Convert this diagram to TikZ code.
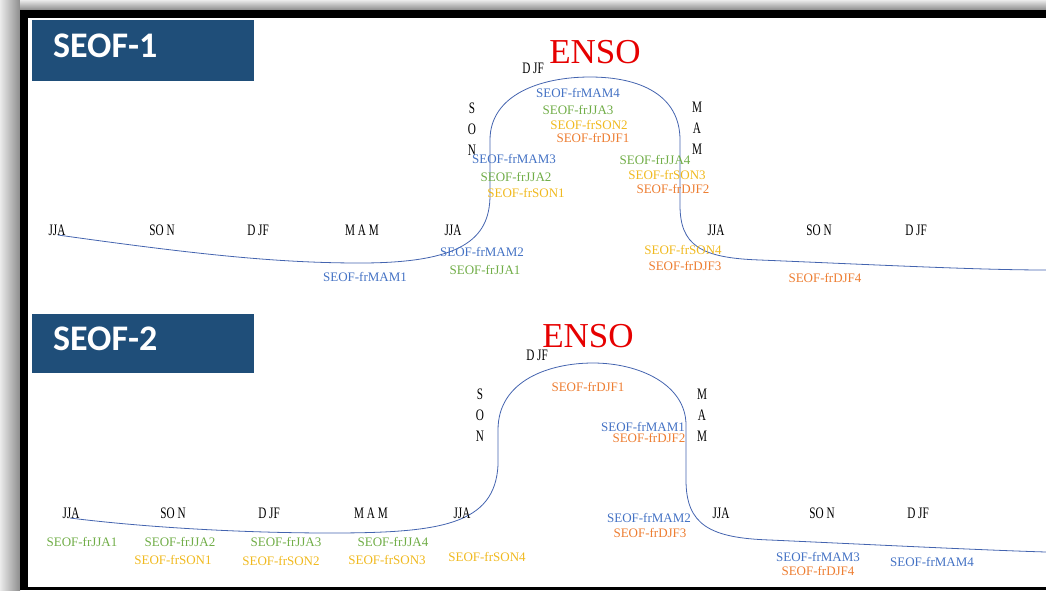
\documentclass[tikz,border=0pt]{standalone}
\usepackage{fontspec}
\setmainfont{Liberation Serif}
\newfontfamily\cond[FakeStretch=0.7]{Liberation Serif}
\newfontfamily\calib{Carlito}
\definecolor{boxblue}{HTML}{1F4E79}
\definecolor{lblue}{HTML}{4472C4}
\definecolor{lgreen}{HTML}{70AD47}
\definecolor{lyellow}{RGB}{240,185,30}
\definecolor{lorange}{HTML}{ED7D31}
\definecolor{curveblue}{RGB}{68,100,175}
\definecolor{ensored}{RGB}{230,0,0}
\tikzset{
  lab/.style={inner sep=0pt, font=\fontsize{13}{13}\selectfont},
  lb/.style={lab, text=lblue},
  lg/.style={lab, text=lgreen},
  ly/.style={lab, text=lyellow},
  lo/.style={lab, text=lorange},
  season/.style={inner sep=0pt, font=\cond\fontsize{16}{16}\selectfont},
  vseason/.style={inner sep=0pt, align=center, font=\cond\fontsize{16}{21}\selectfont},
  enso/.style={inner sep=0pt, anchor=base, text=ensored, font=\fontsize{35}{35}\selectfont},
  title/.style={inner sep=0pt, anchor=base west, text=white, font=\calib\bfseries\fontsize{36}{36}\selectfont},
  titlebox/.style={fill=boxblue},
  cycle/.style={draw=curveblue, line width=0.8pt}
}
\begin{document}
\begin{tikzpicture}[x=1pt,y=-1pt]
\useasboundingbox (0,0) rectangle (1046,590);
% shadow and frame
\shade[left color=black!8, right color=black!45] (0,0) rectangle (20,590);
\shade[top color=black!8, bottom color=black!45] (20,0) rectangle (1046,10);
\fill[black] (20,10) rectangle (1046,18);
\fill[black] (20,10) rectangle (28,590);
\fill[black] (20,587) rectangle (1046,590);
% title boxes
\fill[titlebox] (32,20) rectangle (254,81);
\node[title] (t1) at (53,57) {SEOF-1};
\fill[titlebox] (32,314) rectangle (254,373);
\node[title] (t2) at (53,350) {SEOF-2};

% ---------- panel 1 ----------
\draw[cycle] (58,235) .. controls (200,255) and (280,263) .. (360,263)
  .. controls (460,263) and (490,240) .. (490,195)
  -- (490,140)
  .. controls (490,95) and (540,77) .. (590,77)
  .. controls (640,77) and (680,95) .. (680,140)
  -- (680,205)
  .. controls (680,245) and (700,258) .. (760,260)
  .. controls (880,265) and (980,270) .. (1046,270);
\node[enso] (e1) at (595,63) {ENSO};
\node[season] (a1) at (57,230) {JJA};
\node[season] (a2) at (162,230) {SO N};
\node[season] (a3) at (258,230) {D JF};
\node[season] (a4) at (362,230) {M A M};
\node[season] (a5) at (453,230) {JJA};
\node[season] (a6) at (716,230) {JJA};
\node[season] (a7) at (819,230) {SO N};
\node[season] (a8) at (916,230) {D JF};
\node[season] (a9) at (533,68) {D JF};
\node[vseason] (a10) at (472,129) {S\\O\\N};
\node[vseason] (a11) at (697,128) {M\\A\\M};

\node[lb] (p1m4) at (578,93) {SEOF-frMAM4};
\node[lg] (p1j3) at (578,110) {SEOF-frJJA3};
\node[ly] (p1s2) at (589,125) {SEOF-frSON2};
\node[lo] (p1d1) at (593,138) {SEOF-frDJF1};
\node[lb] (p1m3) at (514,159) {SEOF-frMAM3};
\node[lg] (p1j2) at (516,177) {SEOF-frJJA2};
\node[ly] (p1s1) at (526,193) {SEOF-frSON1};
\node[lg] (p1j4) at (655,160) {SEOF-frJJA4};
\node[ly] (p1s3) at (667,175) {SEOF-frSON3};
\node[lo] (p1d2) at (673,189) {SEOF-frDJF2};
\node[lb] (p1m2) at (482,252) {SEOF-frMAM2};
\node[lg] (p1j1) at (485,270) {SEOF-frJJA1};
\node[lb] (p1m1) at (365,277) {SEOF-frMAM1};
\node[ly] (p1s4) at (683,250) {SEOF-frSON4};
\node[lo] (p1d3) at (685,266) {SEOF-frDJF3};
\node[lo] (p1d4) at (825,278) {SEOF-frDJF4};

% ---------- panel 2 ----------
\draw[cycle] (70,518) .. controls (150,528) and (250,533) .. (330,533)
  .. controls (440,533) and (495,525) .. (498,465)
  -- (498,430)
  .. controls (498,380) and (550,363) .. (593,363)
  .. controls (640,363) and (686,385) .. (686,425)
  -- (686,480)
  .. controls (686,525) and (710,538) .. (770,540)
  .. controls (880,545) and (980,550) .. (1046,552);
\node[enso] (e2) at (588,347) {ENSO};
\node[season] (b1) at (71,513) {JJA};
\node[season] (b2) at (173,513) {SO N};
\node[season] (b3) at (269,513) {D JF};
\node[season] (b4) at (371,513) {M A M};
\node[season] (b5) at (462,513) {JJA};
\node[season] (b6) at (721,513) {JJA};
\node[season] (b7) at (822,513) {SO N};
\node[season] (b8) at (918,513) {D JF};
\node[season] (b9) at (537,355) {D JF};
\node[vseason] (b10) at (480,415) {S\\O\\N};
\node[vseason] (b11) at (702,415) {M\\A\\M};

\node[lo] (p2d1) at (588,387) {SEOF-frDJF1};
\node[lb] (p2m1) at (643,427) {SEOF-frMAM1};
\node[lo] (p2d2) at (649,438) {SEOF-frDJF2};
\node[lg] (p2j1) at (82,542) {SEOF-frJJA1};
\node[lg] (p2j2) at (180,542) {SEOF-frJJA2};
\node[lg] (p2j3) at (286,542) {SEOF-frJJA3};
\node[lg] (p2j4) at (393,542) {SEOF-frJJA4};
\node[ly] (p2s1) at (173,560) {SEOF-frSON1};
\node[ly] (p2s2) at (281,561) {SEOF-frSON2};
\node[ly] (p2s3) at (387,560) {SEOF-frSON3};
\node[ly] (p2s4) at (487,557) {SEOF-frSON4};
\node[lb] (p2m2) at (649,518) {SEOF-frMAM2};
\node[lo] (p2d3) at (650,533) {SEOF-frDJF3};
\node[lb] (p2m3) at (818,557) {SEOF-frMAM3};
\node[lo] (p2d4) at (818,571) {SEOF-frDJF4};
\node[lb] (p2m4) at (932,562) {SEOF-frMAM4};
\end{tikzpicture}
\end{document}
